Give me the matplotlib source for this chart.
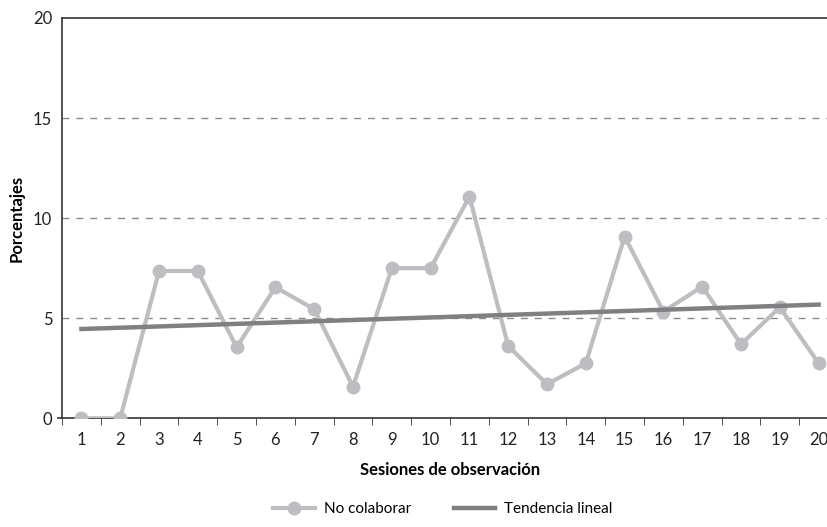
import numpy as np
import matplotlib.pyplot as plt

sesiones = list(range(1, 21))
no_colaborar = [0, 0, 7.36, 7.36, 3.55, 6.55, 5.45, 1.58, 7.5, 7.5,
                11.08, 3.61, 1.7, 2.75, 9.08, 5.33, 6.58, 3.7, 5.55, 2.75]
tendencia_x = [1, 20]
tendencia = [4.46, 5.68]

plt.rcParams['font.family'] = ['Lato', 'DejaVu Sans']

fig = plt.figure(figsize=(8.28, 5.27), dpi=100)
ax = fig.add_axes([0.0749, 0.2063, 0.9372, 0.7596])

ax.plot(sesiones, no_colaborar, color='#bdbec1', lw=3, marker='o', ms=9,
        label='No colaborar', zorder=3)
ax.plot(tendencia_x, tendencia, color='#808083', lw=3.2, label='Tendencia lineal', zorder=4)

ax.set_xlim(0.5, 20.5)
ax.set_ylim(0, 20)
ax.set_yticks([0, 5, 10, 15, 20])
ax.set_xticks(sesiones)
ax.set_xticks(np.arange(0.5, 21, 1), minor=True)
ax.tick_params(axis='x', which='major', length=0, pad=10, labelsize=12, colors='#222222')
ax.tick_params(axis='x', which='minor', length=5, direction='out', color='#333333')
ax.tick_params(axis='y', length=0, pad=7, labelsize=12, colors='#222222')

for v in [5, 10, 15]:
    ax.axhline(v, color='#8a8a8a', lw=1, ls=(0, (5, 5)), zorder=1)

# little stub of the x axis left of the y axis
ax.plot([0.4, 0.5], [0, 0], color='#333333', lw=1.2, clip_on=False)

ax.spines['right'].set_visible(False)
for s in ['top', 'left', 'bottom']:
    ax.spines[s].set_color('#333333')
    ax.spines[s].set_linewidth(1.2)

ax.set_xlabel('Sesiones de observación', fontsize=12, fontweight='bold', labelpad=10)
ax.set_ylabel('Porcentajes', fontsize=12, fontweight='bold', labelpad=6)

fig.legend(loc='lower center', bbox_to_anchor=(0.535, -0.005), ncol=2, frameon=False,
           fontsize=11, handlelength=2.7, handletextpad=0.6, columnspacing=2.8)

fig.savefig('out.png', dpi=100)
